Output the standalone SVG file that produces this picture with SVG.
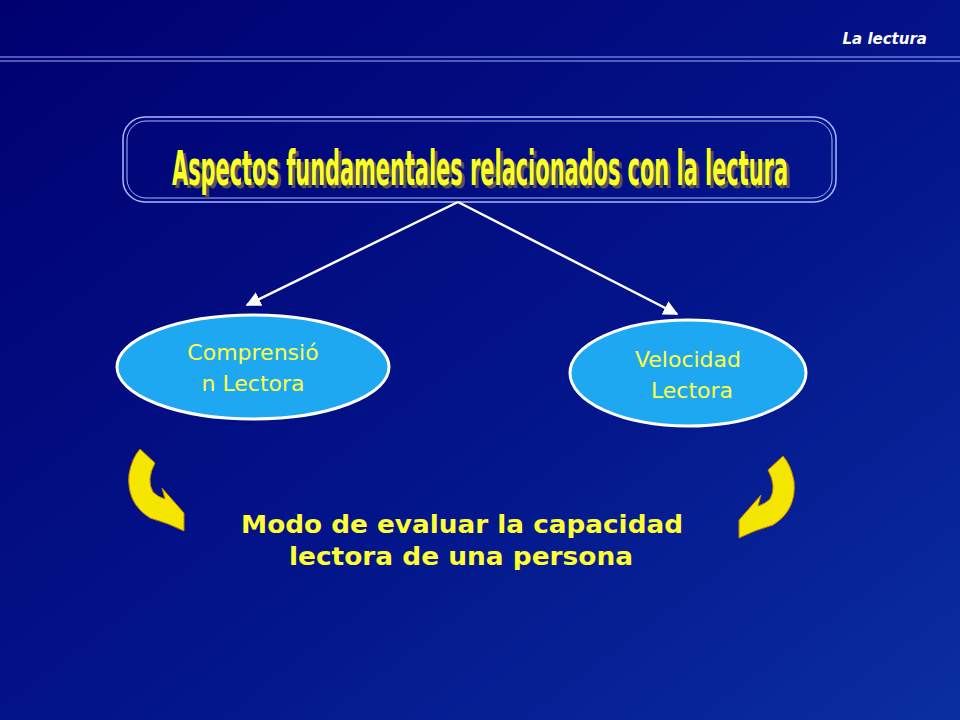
<svg xmlns="http://www.w3.org/2000/svg" width="960" height="720" viewBox="0 0 960 720">
<defs>
<linearGradient id="bg" x1="0" y1="0" x2="1" y2="1">
<stop offset="0" stop-color="#000070"/><stop offset="0.55" stop-color="#03148a"/><stop offset="1" stop-color="#0a2ea0"/>
</linearGradient>
<marker id="ah" viewBox="0 0 10 10" refX="9" refY="5" markerWidth="6" markerHeight="6" orient="auto"><path d="M0,0 L10,5 L0,10 Z" fill="#fff"/></marker>
<path id="curl" d="M140,449 L155,463 Q146,480 153,492 Q158,497 165,499 L162,488 L184,513 L184,531 Q168,523 150,518 Q126,503 129,474 Q132,458 140,449 Z"/>
</defs>
<style>
.el{fill:#1ea8f2;stroke:#fff;stroke-width:3}
.et{font-family:"DejaVu Sans",Verdana,sans-serif;font-size:22px;fill:#ffff44;text-anchor:middle}
.bt{font-family:"DejaVu Sans",Verdana,sans-serif;font-size:24px;font-weight:bold;fill:#ffff33;text-anchor:middle}
.curl{fill:#f5e600;stroke:#c08000;stroke-width:1}
.tt{font-family:'DejaVu Sans Condensed','DejaVu Sans',sans-serif;font-stretch:condensed;font-size:48px;font-weight:bold;text-anchor:middle}
</style>
<rect width="960" height="720" fill="url(#bg)"/>
<text x="927" y="44" font-family="DejaVu Sans,Verdana,sans-serif" font-size="15" font-weight="bold" font-style="italic" fill="#fff" text-anchor="end">La lectura</text>
<line x1="0" y1="57" x2="960" y2="57" stroke="#9ab0ff" stroke-width="1"/>
<line x1="0" y1="61" x2="960" y2="61" stroke="#9ab0ff" stroke-width="1"/>
<g id="title">
<rect x="123" y="117" width="713" height="85" rx="22" fill="none" stroke="#a8b8ff" stroke-width="1.5"/>
<rect x="127" y="121" width="705" height="77" rx="19" fill="none" stroke="#a8b8ff" stroke-width="1"/>
<text class="tt" x="483" y="188" fill="#555" textLength="616" lengthAdjust="spacingAndGlyphs">Aspectos fundamentales relacionados con la lectura</text>
<text class="tt" x="480" y="185" fill="#ffff22" textLength="616" lengthAdjust="spacingAndGlyphs">Aspectos fundamentales relacionados con la lectura</text>
</g>
<g id="connectors" stroke="#fff" stroke-width="2.5" fill="none">
<line x1="458" y1="202" x2="247" y2="305" marker-end="url(#ah)"/>
<line x1="458" y1="202" x2="677" y2="314" marker-end="url(#ah)"/>
</g>
<g id="comprension">
<ellipse class="el" cx="253" cy="367" rx="136" ry="52"/>
<text class="et" x="253" y="360">Comprensió</text>
<text class="et" x="253" y="391">n Lectora</text>
</g>
<g id="velocidad">
<ellipse class="el" cx="688" cy="373" rx="118" ry="53"/>
<text class="et" x="688" y="367">Velocidad</text>
<text class="et" x="692" y="398">Lectora</text>
</g>
<g id="curls">
<use href="#curl" class="curl"/>
<use href="#curl" class="curl" transform="translate(923,7) scale(-1,1)"/>
</g>
<g id="modo">
<text class="bt" x="462" y="533" textLength="442" lengthAdjust="spacingAndGlyphs">Modo de evaluar la capacidad</text>
<text class="bt" x="461" y="565" textLength="344" lengthAdjust="spacingAndGlyphs">lectora de una persona</text>
</g>
</svg>
